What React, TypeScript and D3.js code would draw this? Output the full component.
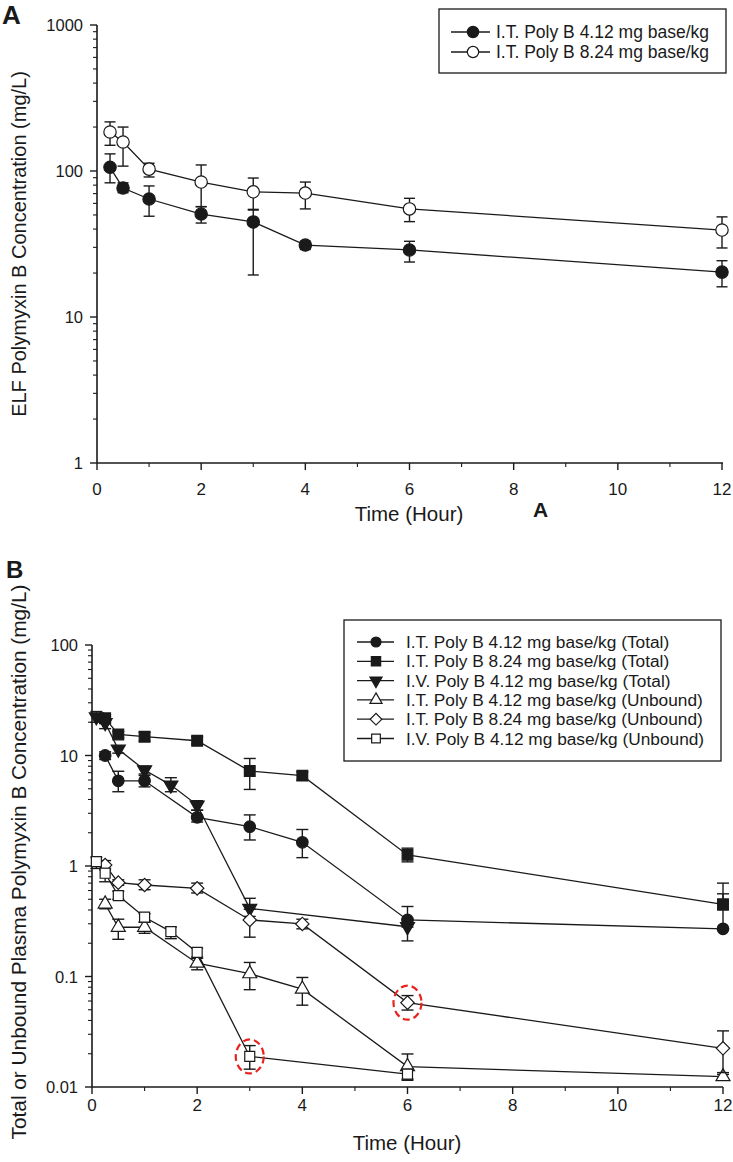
import React from "react";
import * as d3 from "d3";

// ---------- Panel A data (ELF) ----------
const timesA = [0.25, 0.5, 1, 2, 3, 4, 6, 12];
const elf412Mean = [106, 76.5, 64.3, 50.7, 44.8, 31.1, 28.8, 20.3];
const elf412Upper = [131, 83, 79, 57, 54.6, 33, 33, 24.3];
const elf412Lower = [83, 71, 49, 44, 19.4, 29, 23.8, 16.1];
const elf824Mean = [185, 158, 103, 84, 72, 70.6, 55, 39.4];
const elf824Upper = [217, 200, 113, 110, 89.5, 84, 65, 48.5];
const elf824Lower = [150, 108, 91, 57, 54, 55, 45, 29.7];
const legendA = ["I.T. Poly B 4.12 mg base/kg", "I.T. Poly B 8.24 mg base/kg"];

// ---------- Panel B data (plasma) ----------
const timesIT = [0.25, 0.5, 1, 2, 3, 4, 6, 12];
const timesIV = [0.083, 0.25, 0.5, 1, 1.5, 2, 3, 6];

const it412TotMean = [10, 5.9, 5.9, 2.76, 2.27, 1.64, 0.325, 0.27];
const it412TotUpper = [10.8, 7.2, 6.6, 3.2, 2.9, 2.14, 0.43, 0.56];
const it412TotLower = [9.2, 4.7, 5.2, 2.5, 1.72, 1.19, 0.28, 0.27];

const it824TotMean = [21.7, 15.5, 14.8, 13.6, 7.24, 6.57, 1.26, 0.45];
const it824TotUpper = [23.5, 16.5, 16.2, 14.8, 9.4, 7.1, 1.45, 0.7];
const it824TotLower = [19.5, 14.5, 13.5, 12.7, 4.93, 6.0, 1.09, 0.4];

const iv412TotMean = [22.4, 19.8, 11.4, 7.4, 5.4, 3.56, 0.414, 0.282];
const iv412TotUpper = [25, 22.5, 12.2, 8, 6.3, 3.9, 0.51, 0.3];
const iv412TotLower = [20, 17.5, 10.5, 6.8, 4.7, 3.2, 0.35, 0.21];

const it412UnbMean = [0.453, 0.279, 0.279, 0.132, 0.106, 0.0769, 0.0153, 0.0124];
const it412UnbUpper = [0.5, 0.33, 0.31, 0.146, 0.134, 0.098, 0.0199, 0.013];
const it412UnbLower = [0.41, 0.217, 0.246, 0.115, 0.076, 0.055, 0.0115, 0.0118];

const it824UnbMean = [1.02, 0.707, 0.673, 0.628, 0.325, 0.299, 0.058, 0.0224];
const it824UnbUpper = [1.12, 0.75, 0.75, 0.7, 0.406, 0.33, 0.0672, 0.0322];
const it824UnbLower = [0.92, 0.67, 0.61, 0.57, 0.227, 0.27, 0.0497, 0.0135];

const iv412UnbMean = [1.094, 0.86, 0.54, 0.344, 0.255, 0.165, 0.0189, 0.0131];
const iv412UnbUpper = [1.2, 0.95, 0.59, 0.37, 0.28, 0.18, 0.0237, 0.0145];
const iv412UnbLower = [0.95, 0.72, 0.5, 0.31, 0.22, 0.15, 0.0145, 0.0118];

const legendB = [
  "I.T. Poly B 4.12 mg base/kg (Total)",
  "I.T. Poly B 8.24 mg base/kg (Total)",
  "I.V. Poly B 4.12 mg base/kg (Total)",
  "I.T. Poly B 4.12 mg base/kg (Unbound)",
  "I.T. Poly B 8.24 mg base/kg (Unbound)",
  "I.V. Poly B 4.12 mg base/kg (Unbound)",
];

// highlighted points (series index in panel B, time)
const highlightSeries = [5, 4];
const highlightTimes = [3, 6];

const xTicksMajor = [0, 2, 4, 6, 8, 10, 12];
const xTicksMinor = [1, 3, 5, 7, 9, 11];
const yTicksA = [1, 10, 100, 1000];
const yTicksB = [0.01, 0.1, 1, 10, 100];

const FONT = "'Liberation Sans', Arial, Helvetica, sans-serif";
const INK = "#1a1a1a";

type Marker = "circle" | "square" | "triDown" | "triUp" | "diamond";

function markerPath(kind: Marker, size: number): string {
  if (kind === "circle") return d3.symbol(d3.symbolCircle, size)() || "";
  if (kind === "square" || kind === "diamond") return d3.symbol(d3.symbolSquare, size)() || "";
  return d3.symbol(d3.symbolTriangle, size)() || "";
}

function MarkerShape({ kind, filled, x, y, size }: { kind: Marker; filled: boolean; x: number; y: number; size: number }) {
  const rot = kind === "triDown" ? 180 : kind === "diamond" ? 45 : 0;
  return (
    <path
      d={markerPath(kind, size)}
      transform={`translate(${x},${y}) rotate(${rot})`}
      fill={filled ? INK : "#fff"}
      stroke={INK}
      strokeWidth={1.2}
    />
  );
}

interface Series {
  times: number[];
  mean: number[];
  upper: number[];
  lower: number[];
  marker: Marker;
  filled: boolean;
  size: number;
}

function SeriesDraw({ s, x, y, cap }: { s: Series; x: any; y: any; cap: number }) {
  const line = d3
    .line<number>()
    .x((_, i) => x(s.times[i]))
    .y((v) => y(v));
  return (
    <g>
      <path d={line(s.mean) || ""} fill="none" stroke={INK} strokeWidth={1.3} />
      {s.mean.map((m, i) => {
        const cx = x(s.times[i]);
        const yu = y(s.upper[i]);
        const yl = y(s.lower[i]);
        return (
          <g key={"e" + i} stroke={INK} strokeWidth={1.4}>
            <line x1={cx} x2={cx} y1={yu} y2={yl} />
            <line x1={cx - cap} x2={cx + cap} y1={yu} y2={yu} />
            <line x1={cx - cap} x2={cx + cap} y1={yl} y2={yl} />
          </g>
        );
      })}
      {s.mean.map((m, i) => (
        <MarkerShape key={"m" + i} kind={s.marker} filled={s.filled} x={x(s.times[i])} y={y(m)} size={s.size} />
      ))}
    </g>
  );
}

function Axes({ x, y, yTicks, x0, xEnd, yTop, yBottom, yLabelRight, xLabelBase }: any) {
  const minors: number[] = [];
  for (let k = 0; k < yTicks.length - 1; k++) {
    for (let m = 2; m <= 9; m++) minors.push(yTicks[k] * m);
  }
  return (
    <g fontFamily={FONT} fill={INK}>
      <line x1={x0} x2={x0} y1={yTop} y2={yBottom} stroke={INK} strokeWidth={1.6} />
      <line x1={x0} x2={xEnd} y1={yBottom} y2={yBottom} stroke={INK} strokeWidth={1.6} />
      {yTicks.map((t: number) => (
        <g key={"yt" + t}>
          <line x1={x0 - 7} x2={x0} y1={y(t)} y2={y(t)} stroke={INK} strokeWidth={1.4} />
          <text x={yLabelRight} y={y(t) + 6} textAnchor="end" fontSize={16.5}>
            {String(t)}
          </text>
        </g>
      ))}
      {minors.map((t) => (
        <line key={"ym" + t} x1={x0 - 4} x2={x0} y1={y(t)} y2={y(t)} stroke={INK} strokeWidth={1.1} />
      ))}
      {xTicksMajor.map((t) => (
        <g key={"xt" + t}>
          <line x1={x(t)} x2={x(t)} y1={yBottom} y2={yBottom + 7} stroke={INK} strokeWidth={1.4} />
          <text x={x(t)} y={xLabelBase} textAnchor="middle" fontSize={17}>
            {String(t)}
          </text>
        </g>
      ))}
      {xTicksMinor.map((t) => (
        <line key={"xm" + t} x1={x(t)} x2={x(t)} y1={yBottom} y2={yBottom + 4} stroke={INK} strokeWidth={1.1} />
      ))}
    </g>
  );
}

export default function App() {
  // Panel A scales
  const xA = d3.scaleLinear().domain([0, 12]).range([97, 722]);
  const yA = d3.scaleLog().domain([1, 1000]).range([463, 25]);
  // Panel B scales
  const xB = d3.scaleLinear().domain([0, 12]).range([92, 723]);
  const yB = d3.scaleLog().domain([0.01, 100]).range([1087, 645]);

  const seriesA: Series[] = [
    { times: timesA, mean: elf412Mean, upper: elf412Upper, lower: elf412Lower, marker: "circle", filled: true, size: 120 },
    { times: timesA, mean: elf824Mean, upper: elf824Upper, lower: elf824Lower, marker: "circle", filled: false, size: 120 },
  ];

  const seriesB: Series[] = [
    { times: timesIT, mean: it412TotMean, upper: it412TotUpper, lower: it412TotLower, marker: "circle", filled: true, size: 105 },
    { times: timesIT, mean: it824TotMean, upper: it824TotUpper, lower: it824TotLower, marker: "square", filled: true, size: 115 },
    { times: timesIV, mean: iv412TotMean, upper: iv412TotUpper, lower: iv412TotLower, marker: "triDown", filled: true, size: 85 },
    { times: timesIT, mean: it412UnbMean, upper: it412UnbUpper, lower: it412UnbLower, marker: "triUp", filled: false, size: 85 },
    { times: timesIT, mean: it824UnbMean, upper: it824UnbUpper, lower: it824UnbLower, marker: "diamond", filled: false, size: 90 },
    { times: timesIV, mean: iv412UnbMean, upper: iv412UnbUpper, lower: iv412UnbLower, marker: "square", filled: false, size: 100 },
  ];

  // Legend A layout
  const legAx = 439, legAy = 9, legAw = 287, legAh = 64;
  // Legend B layout
  const legBx = 344, legBy = 620, legBw = 377, legBh = 141;

  return (
    <svg
      width={733}
      height={1162}
      viewBox="0 0 733 1162"
      style={{ position: "absolute", left: 0, top: 0, background: "#fff" }}
    >
      <rect x={0} y={0} width={733} height={1162} fill="#fff" />

      {/* ---------- Panel A ---------- */}
      <text x={2} y={24} fontFamily={FONT} fontWeight="bold" fontSize={26} fill={INK}>
        A
      </text>
      <Axes x={xA} y={yA} yTicks={yTicksA} x0={97} xEnd={723} yTop={25} yBottom={463} yLabelRight={83} xLabelBase={495} />
      <text x={409} y={521} textAnchor="middle" fontFamily={FONT} fontSize={20.5} fill={INK}>
        Time (Hour)
      </text>
      <text x={533} y={517} fontFamily={FONT} fontWeight="bold" fontSize={21} fill={INK}>
        A
      </text>
      <text
        transform={`translate(26,244) rotate(-90)`}
        textAnchor="middle"
        fontFamily={FONT}
        fontSize={20}
        fill={INK}
      >
        ELF Polymyxin B Concentration (mg/L)
      </text>
      {seriesA.map((s, i) => (
        <SeriesDraw key={"a" + i} s={s} x={xA} y={yA} cap={5.5} />
      ))}
      <g>
        <rect x={legAx} y={legAy} width={legAw} height={legAh} fill="#fff" stroke={INK} strokeWidth={1.3} />
        {legendA.map((lab, i) => {
          const cy = legAy + 23 + i * 20;
          return (
            <g key={"la" + i}>
              <line x1={451} x2={490} y1={cy} y2={cy} stroke={INK} strokeWidth={1.3} />
              <MarkerShape kind="circle" filled={seriesA[i].filled} x={473} y={cy} size={100} />
              <text x={496} y={cy + 6} fontFamily={FONT} fontSize={17.5} fill={INK}>
                {lab}
              </text>
            </g>
          );
        })}
      </g>

      {/* ---------- Panel B ---------- */}
      <text x={6} y={578} fontFamily={FONT} fontWeight="bold" fontSize={24} fill={INK}>
        B
      </text>
      <Axes x={xB} y={yB} yTicks={yTicksB} x0={92} xEnd={723} yTop={645} yBottom={1087} yLabelRight={78} xLabelBase={1111} />
      <text x={407} y={1150} textAnchor="middle" fontFamily={FONT} fontSize={20.5} fill={INK}>
        Time (Hour)
      </text>
      <text
        transform={`translate(26,862) rotate(-90)`}
        textAnchor="middle"
        fontFamily={FONT}
        fontSize={20.8}
        fill={INK}
      >
        Total or Unbound Plasma Polymyxin B Concentration (mg/L)
      </text>
      {seriesB.map((s, i) => (
        <SeriesDraw key={"b" + i} s={s} x={xB} y={yB} cap={6} />
      ))}
      {highlightSeries.map((si, k) => {
        const s = seriesB[si];
        const idx = s.times.indexOf(highlightTimes[k]);
        return (
          <ellipse
            key={"hl" + k}
            cx={xB(highlightTimes[k])}
            cy={yB(s.mean[idx])}
            rx={14}
            ry={17}
            fill="none"
            stroke="#e8231f"
            strokeWidth={2.2}
            strokeDasharray="7,4"
          />
        );
      })}
      <g>
        <rect x={legBx} y={legBy} width={legBw} height={legBh} fill="#fff" stroke={INK} strokeWidth={1.3} />
        {legendB.map((lab, i) => {
          const cy = legBy + 22 + i * 19.3;
          const s = seriesB[i];
          return (
            <g key={"lb" + i}>
              <line x1={357} x2={394} y1={cy} y2={cy} stroke={INK} strokeWidth={1.3} />
              <MarkerShape kind={s.marker} filled={s.filled} x={376} y={cy} size={s.size * 0.75} />
              <text x={406} y={cy + 6} fontFamily={FONT} fontSize={17.3} fill={INK}>
                {lab}
              </text>
            </g>
          );
        })}
      </g>
    </svg>
  );
}
